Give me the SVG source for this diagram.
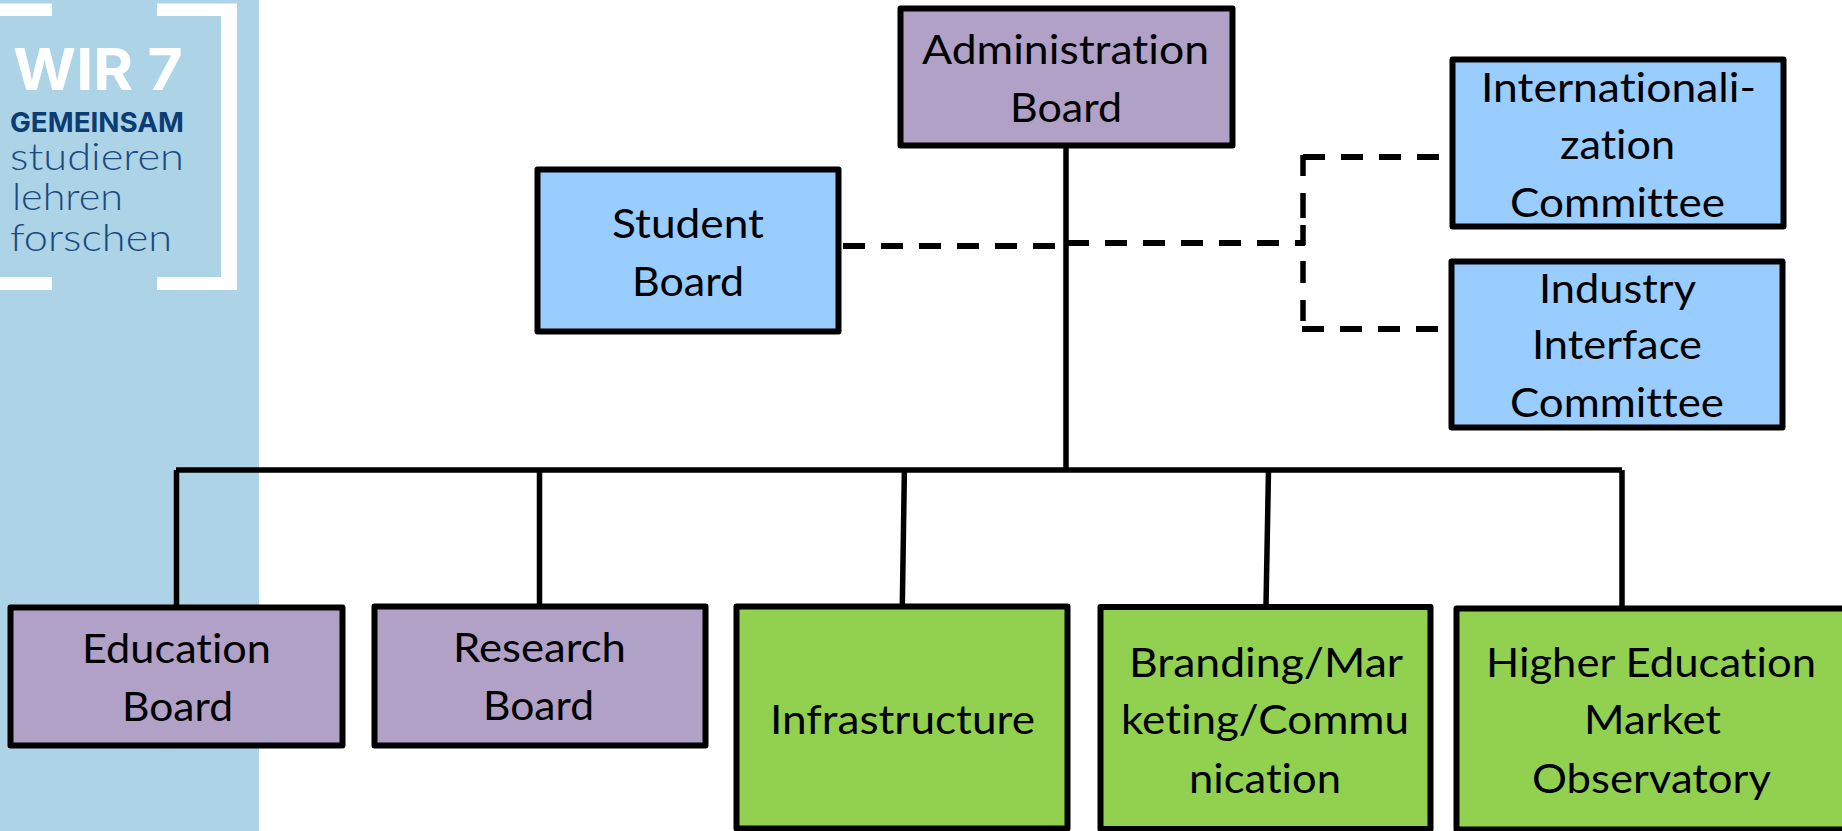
<svg xmlns="http://www.w3.org/2000/svg" width="1842" height="831" viewBox="0 0 1842 831">
<style>
.box{stroke:#000;stroke-width:6;stroke-linejoin:round}
.p{fill:#B2A1C7}.b{fill:#99CCFF}.g{fill:#92D050}
text{font-family:"Lato","Liberation Sans",sans-serif;font-variant-ligatures:none}
.t{font-size:41px;fill:#000}
.solid{fill:none;stroke:#000;stroke-width:5.5}
.dash{fill:none;stroke:#000;stroke-width:6;stroke-dasharray:22 16}
.lite{font-size:37px;font-weight:300;fill:#1A4A80}
.head{font-family:"Inter","Lato",sans-serif;font-weight:700}
</style>
<rect width="1842" height="831" fill="#fff"/>
<g id="logo">
<rect x="0" y="0" width="259" height="831" fill="#ADD3E6"/>
<path fill="#fff" d="M0 3.5H52V16H0ZM0 277H52V290H0ZM157 3.5H237V290H157V277H221V16H157Z"/>
<text class="head" x="13" y="90" font-size="58" fill="#fff" textLength="170" lengthAdjust="spacingAndGlyphs">WIR 7</text>
<text class="head" x="10" y="132" font-size="27.5" fill="#0B3C73" textLength="174" lengthAdjust="spacingAndGlyphs">GEMEINSAM</text>
<text class="lite" x="10" y="170" textLength="174" lengthAdjust="spacingAndGlyphs">studieren</text>
<text class="lite" x="12" y="210" textLength="111" lengthAdjust="spacingAndGlyphs">lehren</text>
<text class="lite" x="10" y="251" textLength="162" lengthAdjust="spacingAndGlyphs">forschen</text>
</g>
<g id="connectors">
<path class="solid" d="M1066 146V470M176 470H1622M176.5 470V607M539.5 470V606M904.4 470L902.3 606M1268.5 470L1266 606M1622 470V607"/>
<path class="dash" d="M843 246H1060"/>
<path class="dash" d="M1067 243H1305"/>
<path class="dash" d="M1303 157H1440"/>
<path class="solid" stroke-width="6" stroke-dasharray="21 17 25 7 20 16 22 17 21 60" d="M1303 155V329"/>
<path class="dash" d="M1302 329H1439"/>
</g>
<g id="administration-board">
<rect class="box p" x="900.5" y="8.5" width="332" height="137"/>
<text class="t" x="922" y="64" textLength="287" lengthAdjust="spacingAndGlyphs">Administration</text>
<text class="t" x="1010" y="122" textLength="112" lengthAdjust="spacingAndGlyphs">Board</text>
</g>
<g id="student-board">
<rect class="box b" x="537.5" y="169.5" width="301" height="162"/>
<text class="t" x="612" y="238" textLength="152" lengthAdjust="spacingAndGlyphs">Student</text>
<text class="t" x="632" y="296" textLength="112" lengthAdjust="spacingAndGlyphs">Board</text>
</g>
<g id="internationalization-committee">
<rect class="box b" x="1452.5" y="59.5" width="331" height="167"/>
<text class="t" x="1481" y="102" textLength="275" lengthAdjust="spacingAndGlyphs">Internationali-</text>
<text class="t" x="1560" y="159" textLength="115" lengthAdjust="spacingAndGlyphs">zation</text>
<text class="t" x="1510" y="217" textLength="215" lengthAdjust="spacingAndGlyphs">Committee</text>
</g>
<g id="industry-interface-committee">
<rect class="box b" x="1451.5" y="261.5" width="331" height="166"/>
<text class="t" x="1539" y="303" textLength="157" lengthAdjust="spacingAndGlyphs">Industry</text>
<text class="t" x="1532" y="359" textLength="170" lengthAdjust="spacingAndGlyphs">Interface</text>
<text class="t" x="1510" y="417" textLength="214" lengthAdjust="spacingAndGlyphs">Committee</text>
</g>
<g id="education-board">
<rect class="box p" x="10.5" y="607.5" width="332" height="138"/>
<text class="t" x="82" y="663" textLength="189" lengthAdjust="spacingAndGlyphs">Education</text>
<text class="t" x="122" y="721" textLength="111" lengthAdjust="spacingAndGlyphs">Board</text>
</g>
<g id="research-board">
<rect class="box p" x="374.5" y="606.5" width="331" height="139"/>
<text class="t" x="453" y="662" textLength="173" lengthAdjust="spacingAndGlyphs">Research</text>
<text class="t" x="483" y="720" textLength="111" lengthAdjust="spacingAndGlyphs">Board</text>
</g>
<g id="infrastructure">
<rect class="box g" x="736.5" y="606.5" width="331" height="222"/>
<text class="t" x="770" y="734" textLength="265" lengthAdjust="spacingAndGlyphs">Infrastructure</text>
</g>
<g id="branding-marketing-communication">
<rect class="box g" x="1100.5" y="607" width="330" height="222"/>
<text class="t" x="1129" y="677" textLength="274" lengthAdjust="spacingAndGlyphs">Branding/Mar</text>
<text class="t" x="1121" y="734" textLength="288" lengthAdjust="spacingAndGlyphs">keting/Commu</text>
<text class="t" x="1189" y="793" textLength="152" lengthAdjust="spacingAndGlyphs">nication</text>
</g>
<g id="higher-education-market-observatory">
<rect class="box g" x="1456.5" y="608.5" width="400" height="221"/>
<text class="t" x="1486" y="677" textLength="330" lengthAdjust="spacingAndGlyphs">Higher Education</text>
<text class="t" x="1584" y="734" textLength="137" lengthAdjust="spacingAndGlyphs">Market</text>
<text class="t" x="1532" y="793" textLength="239" lengthAdjust="spacingAndGlyphs">Observatory</text>
</g>
</svg>
